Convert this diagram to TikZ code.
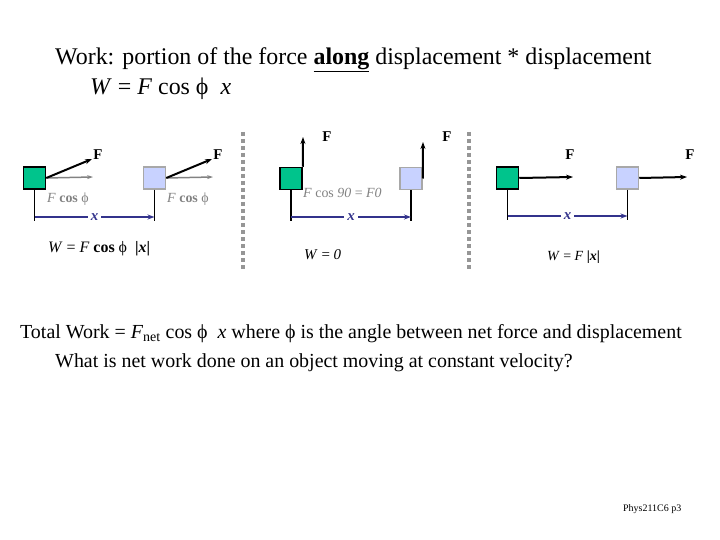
\documentclass[tikz,border=0pt]{standalone}
\usepackage{fontspec}
\setmainfont{Liberation Serif}
\usetikzlibrary{arrows.meta, positioning, calc}

\definecolor{boxgreen}{RGB}{0,196,140}
\definecolor{boxblue}{RGB}{200,210,255}
\definecolor{boxgray}{RGB}{168,168,168}
\definecolor{dispblue}{RGB}{51,51,140}
\definecolor{sepgray}{RGB}{150,150,150}
\definecolor{compgray}{RGB}{130,130,130}

\tikzset{
  startbox/.style={draw=black, line width=1.5bp, fill=boxgreen,
    minimum size=22bp, inner sep=0pt},
  endbox/.style={draw=boxgray, line width=1.5bp, fill=boxblue,
    minimum size=22bp, inner sep=0pt},
  force/.style={-{Stealth[length=7bp,width=5bp]}, line width=2bp},
  compo/.style={-{Stealth[length=6bp,width=4bp]}, line width=1.5bp, compgray},
  disp/.style={-{Stealth[length=7bp,width=5bp]}, line width=1.5bp, dispblue},
  marker/.style={line width=1.5bp},
  dispname/.style={fill=white, text=dispblue, font=\fontsize{15}{17}\selectfont\bfseries\itshape, inner sep=3bp},
  forcename/.style={font=\fontsize{15}{17}\selectfont\bfseries, inner sep=0pt},
  label/.style={font=\fontsize{14}{16}\selectfont, inner sep=0pt, anchor=base west},
  separator/.style={sepgray, line width=4bp, dash pattern=on 4bp off 3bp},
}

\begin{document}
\begin{tikzpicture}[x=1bp, y=-1bp]

\path[use as bounding box] (0,0) rectangle (720,540);

% --- Titolo
\node[anchor=base west, inner sep=0pt, font=\fontsize{24}{28}\selectfont] (title) at (55,65)
  {Work: portion of the force \underline{\textbf{along}} displacement * displacement};
\node[anchor=base west, inner sep=0pt, font=\fontsize{24}{28}\selectfont] (formula) at (90,95)
  {\textit{W} = \textit{F} cos ϕ \ \textit{x}};

% --- Separatori
\foreach \sx in {243,469}
  \draw[separator] (\sx,132) -- (\sx,272);

% ================== Pannello 1: forza inclinata ==================
\node[startbox] (g1) at (34.5,178) {};
\node[endbox]   (b1) at (154.5,178) {};

\coordinate (f1) at (92,159);
\coordinate (c1) at (93,177);
\coordinate (f1b) at (212,159);
\coordinate (c1b) at (213,177);
\draw[compo] (g1.east) -- (c1);
\draw[force] (g1.east) -- (f1);
\draw[compo] (b1.east) -- (c1b);
\draw[force] (b1.east) -- (f1b);
\node[forcename] (F1) at (98,155) {F};
\node[forcename] (F1b) at (218,155) {F};

\node[label, text=compgray] (comp1) at (47,203) {\textit{F} \textbf{cos} ϕ};
\node[label, text=compgray] (comp1b) at (167,203) {\textit{F} \textbf{cos} ϕ};

\coordinate (s1) at (34.5,217);
\coordinate (e1) at (154.5,217);
\draw[marker] (g1.south) -- ($(s1)+(0,4)$);
\draw[marker] (b1.south) -- ($(e1)+(0,4)$);
\draw[disp] (s1) -- node[dispname] (x1) {x} (e1);

\node[label, font=\fontsize{16}{18}\selectfont] (work1) at (48,253)
  {\textit{W} = \textit{F} \textbf{cos} ϕ \ \textbf{|\textit{x}|}};

% ================== Pannello 2: forza perpendicolare ==================
\node[startbox] (g2) at (291,178.5) {};
\node[endbox]   (b2) at (411,178.5) {};

\coordinate (f2) at (303,137);
\coordinate (f2b) at (423,142);
\draw[force] (g2.north east) -- (f2);
\draw[force] (b2.east) -- (f2b);
\node[forcename] (F2) at (327,137) {F};
\node[forcename] (F2b) at (447,137) {F};

\node[label, text=compgray, font=\fontsize{14}{16}\selectfont] (comp2) at (303,198)
  {\textit{F} cos \textit{90} = \textit{F0}};

\coordinate (s2) at (291,217);
\coordinate (e2) at (411,217);
\draw[marker] (g2.south) -- ($(s2)+(0,4)$);
\draw[marker] (b2.south) -- ($(e2)+(0,4)$);
\draw[disp] (s2) -- node[dispname] (x2) {x} (e2);

\node[label, font=\fontsize{15}{17}\selectfont] (work2) at (304,260) {\textit{W} = \textit{0}};

% ================== Pannello 3: forza parallela ==================
\node[startbox] (g3) at (507.5,178) {};
\node[endbox]   (b3) at (627.5,178) {};

\coordinate (f3) at (573,177);
\coordinate (f3b) at (687,177);
\draw[force] (g3.east) -- (f3);
\draw[force] (b3.east) -- (f3b);
\node[forcename] (F3) at (570,155) {F};
\node[forcename] (F3b) at (690,155) {F};

\coordinate (s3) at (507.5,216);
\coordinate (e3) at (627.5,216);
\draw[marker] (g3.south) -- ($(s3)+(0,4)$);
\draw[marker] (b3.south) -- ($(e3)+(0,4)$);
\draw[disp] (s3) -- node[dispname] (x3) {x} (e3);

\node[label] (work3) at (547,261) {\textit{W} = \textit{F} \textbf{|\textit{x}|}};

% --- Testo in basso
\node[anchor=base west, inner sep=0pt, font=\fontsize{20}{24}\selectfont] (total) at (20,338)
  {Total Work = \textit{F}\textsubscript{net} cos ϕ \ \textit{x} where ϕ is the angle between net force and displacement};
\node[anchor=base west, inner sep=0pt, font=\fontsize{20}{24}\selectfont] (question) at (55,367)
  {What is net work done on an object moving at constant velocity?};

\node[anchor=base west, inner sep=0pt, font=\fontsize{10}{12}\selectfont] (page) at (623,511) {Phys211C6 p3};

\end{tikzpicture}
\end{document}
